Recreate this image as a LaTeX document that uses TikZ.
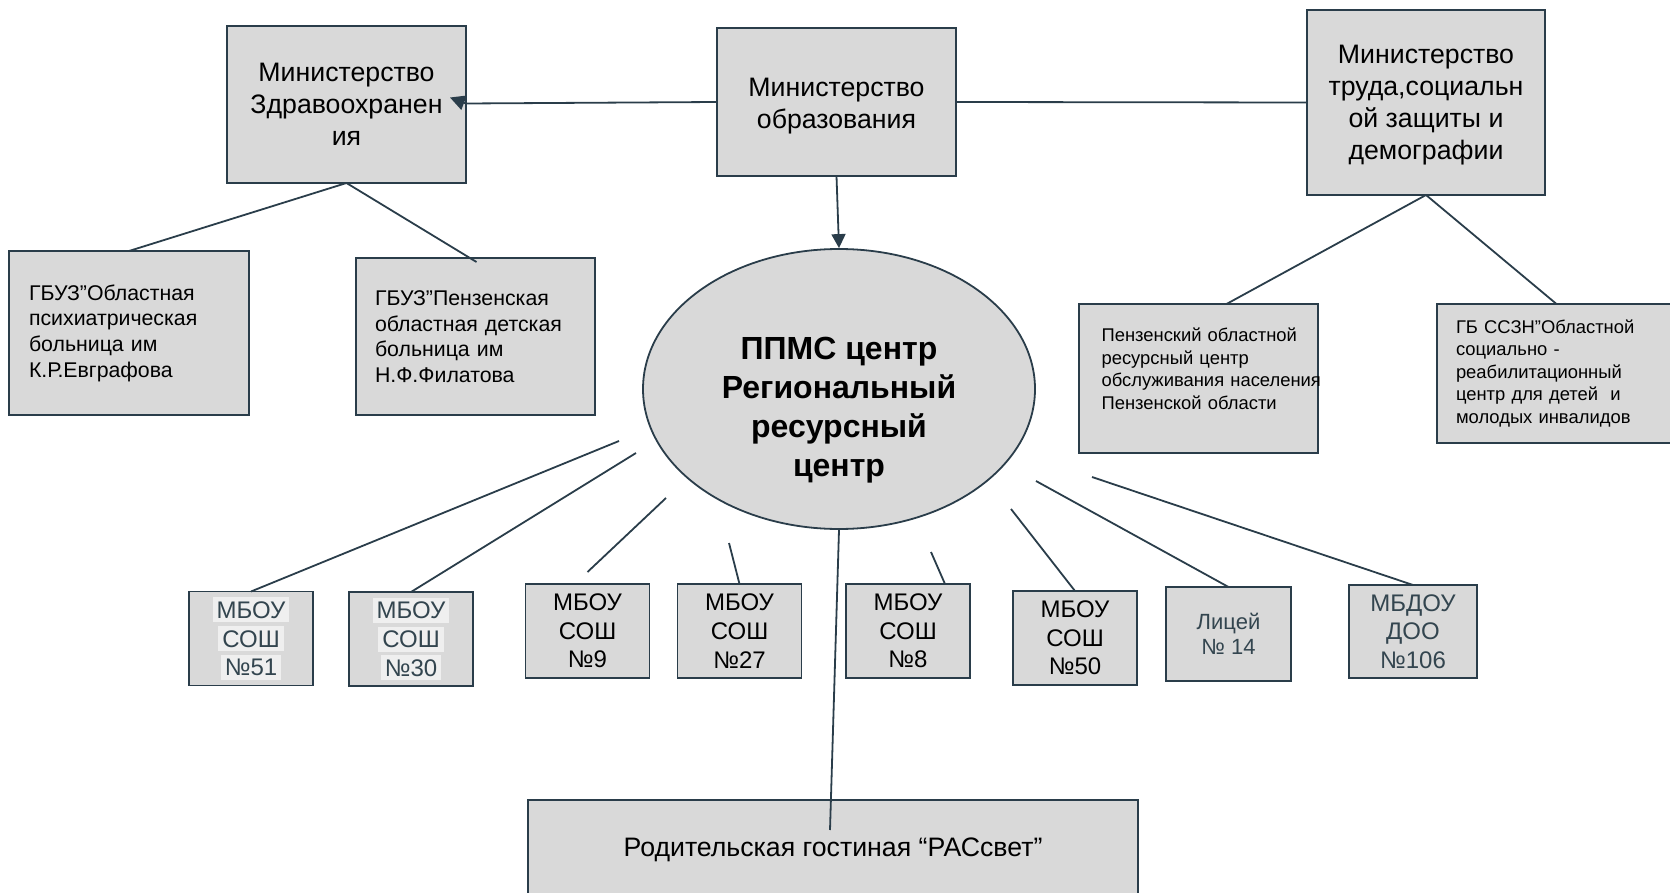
\documentclass[tikz,border=0pt]{standalone}
\usepackage{fontspec}
\setmainfont{Liberation Sans}
\usetikzlibrary{shapes.geometric,arrows.meta,calc}
\definecolor{boxfill}{HTML}{D9D9D9}
\definecolor{edgec}{HTML}{2A3D4A}
\definecolor{slate}{HTML}{33454F}
\definecolor{hlc}{HTML}{EFEFEF}
\newcommand{\hlt}[1]{{\setlength{\fboxsep}{0pt}\colorbox{hlc}{\rule[-4pt]{0pt}{25pt}\,#1\,}}}
\begin{document}
\begin{tikzpicture}[x=1pt,y=-1pt,
  box/.style={draw=edgec,line width=1.8pt,fill=boxfill,inner sep=0pt,outer sep=0pt,rectangle},
  conn/.style={draw=edgec,line width=1.8pt},
  arr/.style={conn,-{Triangle[length=15pt,width=15pt]}},
  big/.style={font=\fontsize{26.7}{32}\selectfont,align=center,text=black},
  mid/.style={font=\fontsize{21.3}{25.6}\selectfont,align=left,text=black},
  small/.style={font=\fontsize{18.4}{22.5}\selectfont,align=left,text=black},
  school/.style={box,minimum width=124pt,minimum height=94pt,font=\fontsize{24}{28.7}\selectfont,align=center},
]
\useasboundingbox (0,0) rectangle (1670,893);

% ministries
\node[box,big,minimum width=239pt,minimum height=157pt] (zdrav) at (346.5,104.5) {Министерство\\Здравоохранен\\ия};
\node[box,minimum width=239pt,minimum height=148pt] (minobr) at (836.5,102) {};
\node[big] (minobrt) at (836.5,106) {Министерство\\образования};
\node[box,minimum width=238pt,minimum height=185pt] (trud) at (1426,102.5) {};
\node[big] (trudt) at (1426,105.5) {Министерство\\труда,социальн\\ой защиты и\\демографии};

% second level
\node[box,mid,minimum width=240pt,minimum height=164pt,inner xsep=20pt,text width=200pt] (gbuz1) at (129,333) {ГБУЗ”Областная\\психиатрическая\\больница им\\К.Р.Евграфова};
\node[box,mid,minimum width=239pt,minimum height=157pt,inner xsep=19pt,text width=201pt] (gbuz2) at (475.5,336.5) {ГБУЗ”Пензенская\\областная детская\\больница им\\Н.Ф.Филатова};
\node[box,minimum width=239pt,minimum height=149pt] (penz) at (1198.5,378.5) {};
\node[small,anchor=west,text width=240pt] (penzt) at (1098,369) {Пензенский областной\\ресурсный центр\\обслуживания населения\\Пензенской области};
\node[box,small,minimum width=239pt,minimum height=139pt,inner xsep=19pt,text width=201pt] (gbssz) at (1556.5,373.5) {ГБ ССЗН”Областной\\социально -\\реабилитационный\\центр для детей~ и\\молодых инвалидов};

% centre
\node[ellipse,draw=edgec,line width=1.8pt,fill=boxfill,minimum width=392pt,minimum height=280pt,inner sep=0pt] (ppms) at (839,389) {};
\node[font=\bfseries\fontsize{32}{39}\selectfont,align=center] (ppmst) at (839,410) {ППМС центр\\Региональный\\ресурсный\\центр};

% schools
\node[school,text=slate] (s51) at (251,638.5) {\hlt{МБОУ}\\\hlt{СОШ}\\\hlt{№51}};
\node[school,text=slate] (s30) at (411,639) {\hlt{МБОУ}\\\hlt{СОШ}\\\hlt{№30}};
\node[school] (s9) at (587.5,631) {МБОУ\\СОШ\\№9};
\node[school] (s27) at (739.5,631) {МБОУ\\СОШ\\№27};
\node[school] (s8) at (908,631) {МБОУ\\СОШ\\№8};
\node[school] (s50) at (1075,638) {МБОУ\\СОШ\\№50};
\node[school,text=slate,font=\fontsize{22}{25.6}\selectfont,minimum width=125pt] (lic) at (1228.5,634) {Лицей\\№ 14};
\node[school,text=slate,minimum width=128pt,minimum height=93pt] (mbdou) at (1413,631.5) {МБДОУ\\ДОО\\№106};

\node[box,big,minimum width=610pt,minimum height=100pt] (rod) at (833,850) {Родительская гостиная “РАСсвет”};

% connectors top
\draw[conn] (minobr.west) -- ($(zdrav.east)+(0,-1)$);
\draw[arr] ($(zdrav.east)+(0,-1)$) -- ($(zdrav.east)+(-16,-7)$);
\draw[conn] (minobr.east) -- (trud.west);
\draw[conn,-{Triangle[length=14pt,width=14pt]}] (minobr.south) -- (ppms.north);
\draw[conn] (zdrav.south) -- (gbuz1.north);
\draw[conn] (zdrav.south) -- ($(gbuz2.north)+(1,4)$);
\draw[conn] (trud.south) -- ($(penz.north)+(28,0)$);
\draw[conn] (trud.south) -- (gbssz.north);

% connectors from centre
\coordinate (e1) at (619,441);
\coordinate (e2) at (636,453);
\coordinate (e3) at (666,498);
\coordinate (e4) at (729,543);
\coordinate (e5) at (931,552);
\coordinate (e6) at (1011,509);
\coordinate (e7) at (1036,481);
\coordinate (e8) at (1092,477);
\coordinate (rodend) at (830,830);
\draw[conn] (e1) -- (s51.north);
\draw[conn] (e2) -- (s30.north);
\draw[conn] (e3) -- ($(s9.north)+(0,-12)$);
\draw[conn] (e4) -- (s27.north);
\draw[conn] (e5) -- ($(s8.north)+(37,0)$);
\draw[conn] (e6) -- (s50.north);
\draw[conn] (e7) -- (lic.north);
\draw[conn] (e8) -- (mbdou.north);
\draw[conn] (ppms.south) -- (rodend);
\end{tikzpicture}
\end{document}
